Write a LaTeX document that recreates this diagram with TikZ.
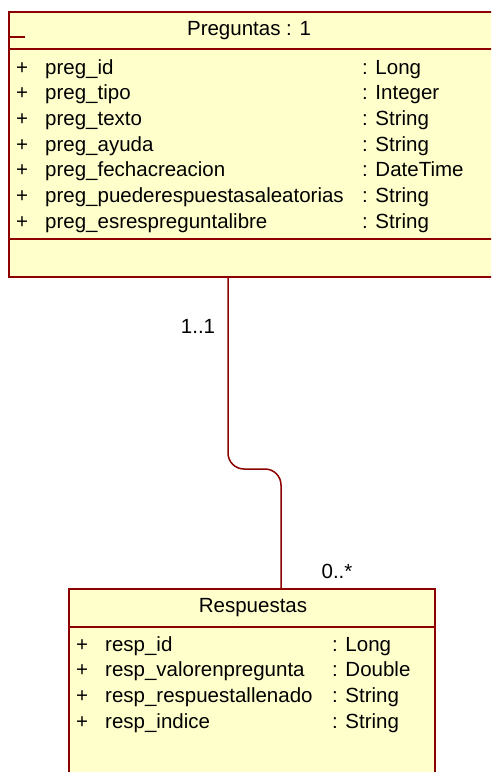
\documentclass[tikz,border=0pt]{standalone}
\usepackage{fontspec}
\setmainfont{Liberation Sans}
\definecolor{umlred}{RGB}{140,0,0}
\definecolor{umlfill}{RGB}{255,255,204}
\begin{document}
\begin{tikzpicture}[x=1pt,y=-1pt,
  classbox/.style={draw=umlred, fill=umlfill, line width=1.5pt, rectangle, inner sep=0pt, anchor=north west},
  sepline/.style={draw=umlred, line width=1.5pt},
  txt/.style={anchor=base west, inner sep=0pt, font=\fontsize{20.5}{24}\selectfont},
  ctxt/.style={anchor=base, inner sep=0pt, font=\fontsize{20.5}{24}\selectfont},
  assoc/.style={draw=umlred, line width=1.5pt, rounded corners=16pt}]
\useasboundingbox (0,0) rectangle (491,772);
\clip (0,0) rectangle (491,772);
\fill[white] (0,0) rectangle (491,772);
% Preguntas
\node[classbox, minimum width=490pt, minimum height=265pt] (preg) at (8,11) {};
\draw[sepline] (8,49) -- (498,49);
\draw[sepline] (8,239) -- (498,239);
\draw[umlred, line width=2pt] (10,37) -- (25,37);
\node[ctxt] (pregt) at (249,35) {Preguntas : 1};
\foreach \n/\t [count=\i from 0] in {preg\_id/: Long, preg\_tipo/: Integer, preg\_texto/: String, preg\_ayuda/: String, preg\_fechacreacion/: DateTime, preg\_puederespuestasaleatorias/: String, preg\_esrespreguntalibre/: String}{
  \node[txt] (pp\i) at (16,74+25.67*\i) {+};
  \node[txt] (pn\i) at (45,74+25.67*\i) {\n};
  \node[txt] (pt\i) at (362,74+25.67*\i) {\t};
}
% Respuestas
\node[classbox, minimum width=366pt, minimum height=200pt] (resp) at (68,588) {};
\draw[sepline] (68,627) -- (435,627);
\node[ctxt] (respt) at (253,612) {Respuestas};
\foreach \n/\t [count=\i from 0] in {resp\_id/: Long, resp\_valorenpregunta/: Double, resp\_respuestallenado/: String, resp\_indice/: String}{
  \node[txt] (rp\i) at (76,651+25.67*\i) {+};
  \node[txt] (rn\i) at (105,651+25.67*\i) {\n};
  \node[txt] (rt\i) at (332,651+25.67*\i) {\t};
}
% association
\coordinate (j1) at (228,469);
\coordinate (j2) at (281,469);
\draw[assoc] (preg.south -| j1) -- (j1) -- (j2) -- (resp.north -| j2);
\node[ctxt] (m1) at (198,333) {1..1};
\node[ctxt] (m2) at (337,578) {0..*};
\end{tikzpicture}
\end{document}
